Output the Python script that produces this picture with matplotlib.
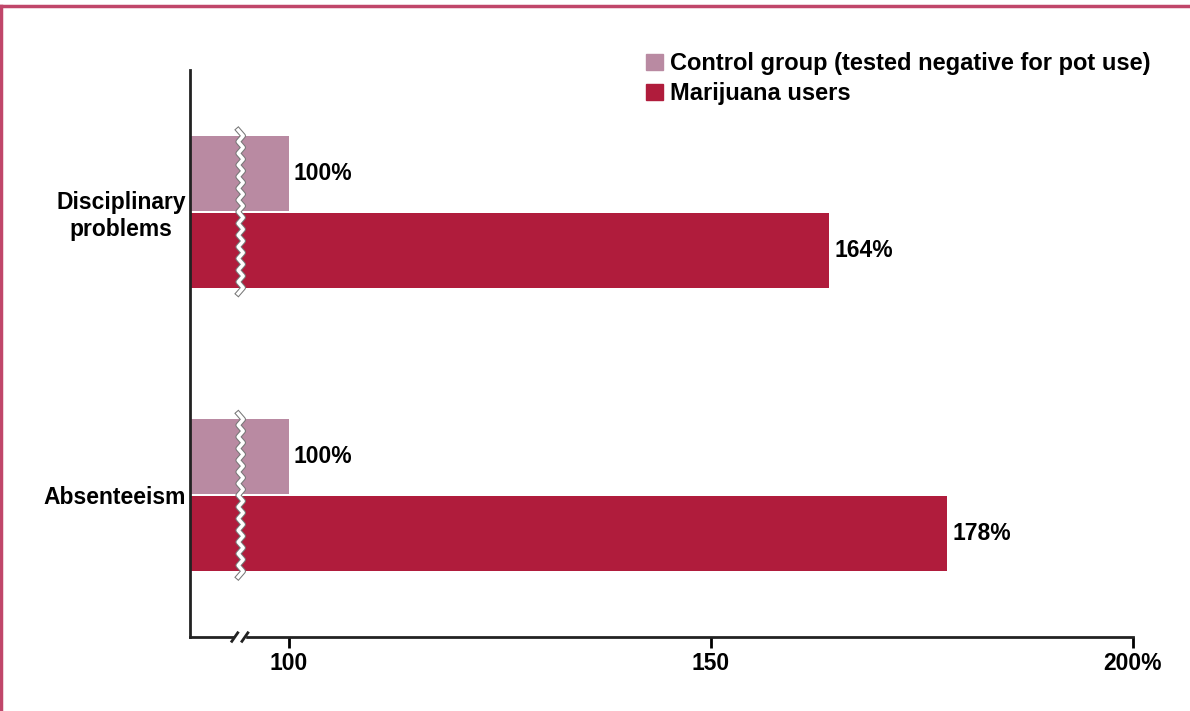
import numpy as np
import matplotlib.pyplot as plt
from matplotlib.lines import Line2D
from matplotlib.patches import Patch, Rectangle
import matplotlib.patheffects as pe

plt.rcParams['font.family'] = ['Liberation Sans', 'DejaVu Sans']
plt.rcParams['font.weight'] = 'bold'

# Datos
categorias = ['Absenteeism', 'Disciplinary\nproblems']
control = [100, 100]
marihuana = [178, 164]
series = ['Control group (tested negative for pot use)', 'Marijuana users']
ticks = [100, 150, 200]
tick_labels = ['100', '150', '200%']

c_control = '#b98aa2'
c_mari = '#b01c3c'
borde = '#c0466a'

fig = plt.figure(figsize=(11.9, 7.11), dpi=100)
ax = fig.add_axes([0.1597, 0.104, 0.7924, 0.7975])

y = np.arange(len(categorias))
h = 0.265
off = 0.136
ax.barh(y + off, control, height=h, color=c_control, left=0)
ax.barh(y - off, marihuana, height=h, color=c_mari, left=0)

for yi, v in zip(y, control):
    ax.text(v + 0.6, yi + off, f'{v}%', va='center', ha='left', fontsize=16.5, fontweight='bold')
for yi, v in zip(y, marihuana):
    ax.text(v + 0.6, yi - off, f'{v}%', va='center', ha='left', fontsize=16.5, fontweight='bold')

ax.set_xlim(88.3, 200)
ax.set_ylim(-0.5, 1.5)
ax.set_xticks(ticks)
ax.set_xticklabels(tick_labels, fontsize=16.5, fontweight='bold')
ax.set_yticks(y)
ax.set_yticklabels(categorias, fontsize=16.5, fontweight='bold', multialignment='center')
ax.tick_params(axis='y', length=0, pad=3)
ax.tick_params(axis='x', length=8, width=2, direction='out', pad=3)
for s in ['top', 'right']:
    ax.spines[s].set_visible(False)
for s in ['left', 'bottom']:
    ax.spines[s].set_linewidth(2)
    ax.spines[s].set_color('#222222')

# corte ondulado en las barras
xb = 94.3
for yi in y:
    yy = np.linspace(yi - off - h / 2 - 0.02, yi + off + h / 2 + 0.02, 29)
    xx = xb + 0.3 * np.where(np.arange(29) % 2 == 0, -1, 1)
    ax.plot(xx, yy, color='white', lw=2.5, clip_on=False, zorder=5,
            path_effects=[pe.Stroke(linewidth=4.0, foreground='#777777'), pe.Normal()])

# corte en el eje x
ax.add_patch(Rectangle((93.6, -0.52), 1.2, 0.04, color='white', clip_on=False, zorder=6))
for xs in [93.6, 94.8]:
    ax.plot([xs - 0.35, xs + 0.35], [-0.515, -0.485], color='#222222', lw=2,
            clip_on=False, zorder=7)

handles = [Patch(color=c_control), Patch(color=c_mari)]
fig.legend(handles, series, loc='upper left', bbox_to_anchor=(0.535, 0.94),
           frameon=False, fontsize=17, handlelength=0.7, handleheight=0.7,
           handletextpad=0.3, labelspacing=0.3, borderaxespad=0)

# marco
fig.add_artist(Line2D([0, 1], [0.992, 0.992], color=borde, lw=2.5, transform=fig.transFigure))
fig.add_artist(Line2D([0.001, 0.001], [0, 0.992], color=borde, lw=2.5, transform=fig.transFigure))

fig.savefig('out.png', dpi=100)
